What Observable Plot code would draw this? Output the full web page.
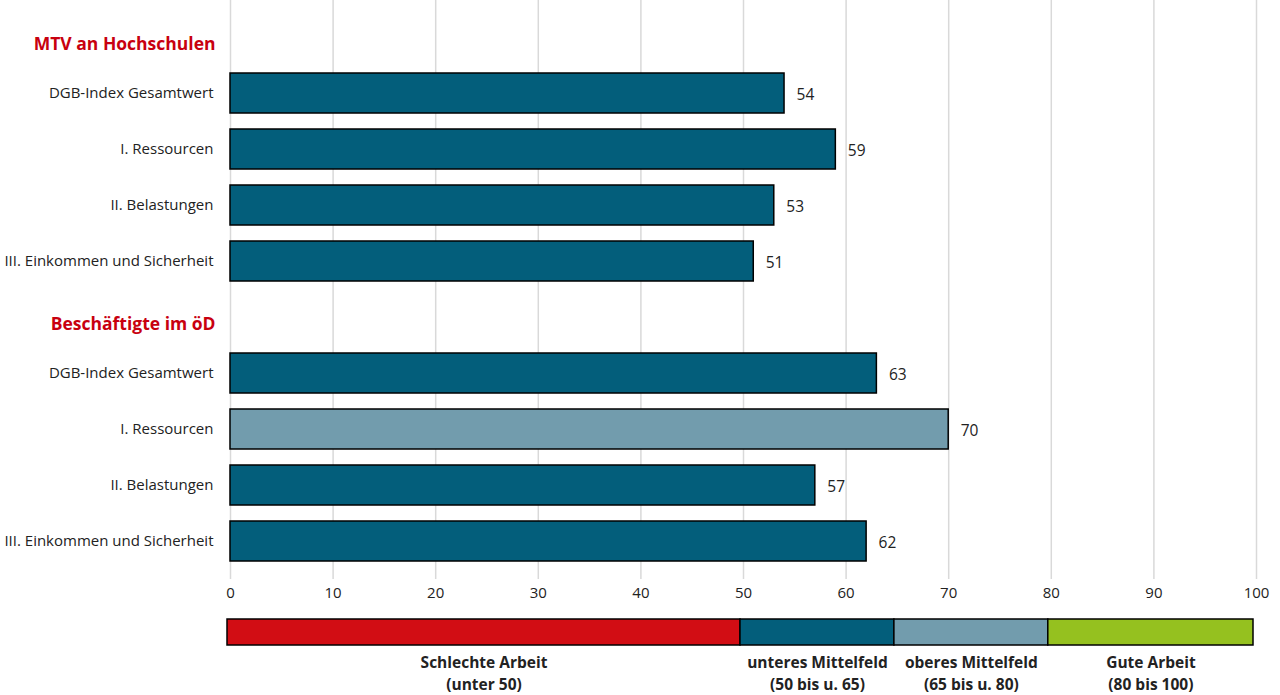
<!DOCTYPE html>
<html>
<head>
<meta charset="utf-8">
<script src="https://cdn.jsdelivr.net/npm/d3@7"></script>
<script src="https://cdn.jsdelivr.net/npm/@observablehq/plot@0.6"></script>
<style>
  html, body { margin: 0; padding: 0; background: #fff; }
  #chart { width: 1280px; }
  #chart svg { display: block; }
</style>
</head>
<body>
<div id="chart"></div>
<script>
const groups = ["MTV an Hochschulen", "Beschäftigte im öD"];
const categories = ["DGB-Index Gesamtwert", "I. Ressourcen", "II. Belastungen", "III. Einkommen und Sicherheit"];
const mtvValues = [54, 59, 53, 51];
const oedValues = [63, 70, 57, 62];
const groupValues = [mtvValues, oedValues];
const xTicks = [0, 10, 20, 30, 40, 50, 60, 70, 80, 90, 100];

const bandLabels = ["Schlechte Arbeit\n(unter 50)", "unteres Mittelfeld\n(50 bis u. 65)", "oberes Mittelfeld\n(65 bis u. 80)", "Gute Arbeit\n(80 bis 100)"];
const bandStarts = [0, 50, 65, 80];
const bandEnds = [50, 65, 80, 100];
const bandColors = ["#d20d14", "#035e7b", "#729cad", "#95c11f"];

const FONT = "'Open Sans', 'DejaVu Sans', sans-serif";

const rowKeys = [];
const headers = [];
const bars = [];
groups.forEach((g, gi) => {
  rowKeys.push(g);
  headers.push({key: g, label: g});
  categories.forEach((c, ci) => {
    const key = g + "|" + c;
    rowKeys.push(key);
    bars.push({key, cat: c, value: groupValues[gi][ci]});
  });
});
const barKeys = bars.map(d => d.key);
const catOf = new Map(bars.map(d => [d.key, d.cat]));
const bandColor = v => {
  const i = bandStarts.findIndex((s, k) => v >= s && v < bandEnds[k]);
  return bandColors[i < 0 ? bandColors.length - 1 : i];
};

const main = Plot.plot({
  width: 1280,
  height: 610,
  marginLeft: 230,
  marginRight: 24,
  marginTop: 0,
  marginBottom: 31,
  style: {fontFamily: FONT, fontSize: "15px", color: "#222", background: "#fff"},
  x: {domain: [0, 100], axis: null, label: null},
  y: {domain: rowKeys, paddingInner: 0.28, paddingOuter: 0.3, axis: null, label: null},
  marks: [
    Plot.ruleX(xTicks, {x: d => d, stroke: "#d9d9d9", strokeWidth: 1.5}),
    Plot.barX(bars, {x: "value", y: "key", fill: d => bandColor(d.value), stroke: "#000", strokeWidth: 1.5}),
    Plot.text(bars, {x: "value", y: "key", text: d => String(d.value), textAnchor: "start", dx: 12, dy: 2, fill: "#222", fontSize: 15.5}),
    Plot.axisX(xTicks, {tickSize: 0, tickPadding: 8, fontSize: 15, fill: "#222", label: null}),
    Plot.axisY(barKeys, {tickSize: 0, tickPadding: 17, tickFormat: k => catOf.get(k), fontSize: 15, fill: "#222", label: null}),
    Plot.text(headers, {x: 0, y: "key", text: "label", textAnchor: "end", dx: -15, dy: 7, fill: "#c8000f", fontWeight: "bold", fontSize: 17.5})
  ]
});

const bandRows = bandLabels.map((label, i) => ({label, start: bandStarts[i], end: bandEnds[i], color: bandColors[i]}));

const legend = Plot.plot({
  width: 1280,
  height: 85,
  marginLeft: 227,
  marginRight: 27,
  marginTop: 9,
  marginBottom: 50,
  style: {fontFamily: FONT, fontSize: "15.5px", color: "#222", background: "#fff"},
  x: {domain: [0, 100], axis: null},
  marks: [
    Plot.barX(bandRows, {x1: "start", x2: "end", fill: "color", stroke: "#000", strokeWidth: 1.5}),
    Plot.text(bandRows, {x: d => (d.start + d.end) / 2, text: "label", frameAnchor: "bottom", lineAnchor: "top", dy: 7, lineHeight: 1.4, fontWeight: "bold", fill: "#222", fontSize: 15.5})
  ]
});

document.getElementById("chart").append(main, legend);
</script>
</body>
</html>
